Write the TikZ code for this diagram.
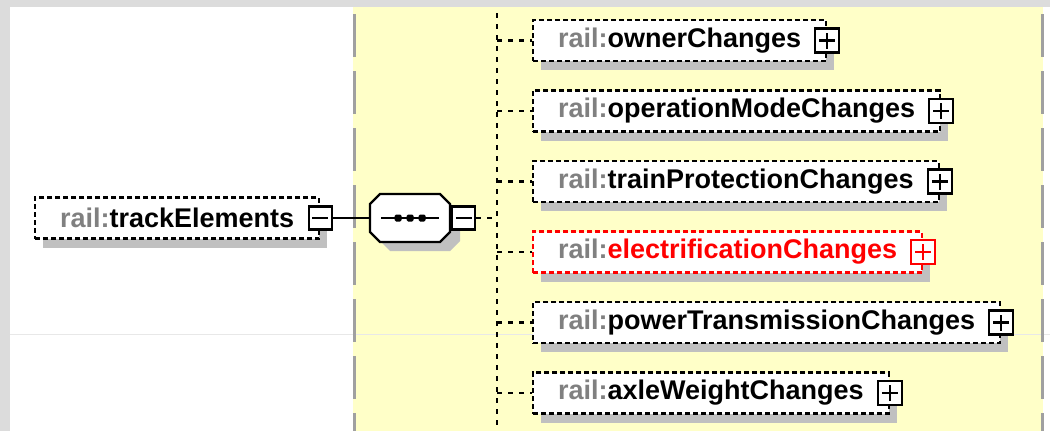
\documentclass[tikz,border=0pt]{standalone}
\usepackage{fontspec}
\setmainfont{Liberation Sans}
\usepackage{tikz}
\usetikzlibrary{positioning, shadows}
\definecolor{railgray}{RGB}{128,128,128}
\definecolor{panelyellow}{RGB}{255,255,200}
\definecolor{framegray}{RGB}{220,220,220}
\definecolor{shadegray}{RGB}{192,192,192}
\definecolor{sepgray}{RGB}{160,160,160}
\definecolor{rulegray}{RGB}{232,232,232}
\newcommand{\railpfx}{\textcolor{railgray}{rail:}}
\tikzset{x=1pt, y=1pt,
elem/.style={draw, dash pattern=on 5pt off 3pt, line width=2.2pt, fill=white, % dashed element box
  minimum height=41pt, inner xsep=25pt, inner ysep=0pt,
  font=\fontsize{27}{32}\selectfont\bfseries,
  drop shadow={shadow xshift=8pt, shadow yshift=-9pt, opacity=1, fill=shadegray}},
plusbox/.style={draw, solid, line width=2.2pt, fill=white, minimum size=24pt, inner sep=0pt, % expand button
  path picture={\draw[line width=2.2pt]
    ([xshift=-8pt]path picture bounding box.center) -- ([xshift=8pt]path picture bounding box.center)
    ([yshift=-8pt]path picture bounding box.center) -- ([yshift=8pt]path picture bounding box.center);}},
minusbox/.style={draw, solid, line width=2.2pt, fill=white, minimum size=23pt, inner sep=0pt, % collapse button
  path picture={\draw[line width=2.2pt]
    ([xshift=-8pt]path picture bounding box.center) -- ([xshift=8pt]path picture bounding box.center);}},
seqnode/.style={minimum width=80pt, minimum height=48pt, inner sep=0pt}, % sequence compositor
octagon/.style={insert path={(-40,14) -- (-30,24) -- (30,24) -- (40,14) -- (40,-14) -- (30,-24) -- (-30,-24) -- (-40,-14) -- cycle}},
childline/.style={line width=2.2pt, dash pattern=on 5pt off 6pt},
sepline/.style={draw=sepgray, line width=3pt, dash pattern=on 43pt off 14pt},
}

\begin{document}
\begin{tikzpicture}
\useasboundingbox (0,0) rectangle (1050,-431);
% background panels
\fill[framegray] (0,0) rectangle (1050,-431);
\fill[white] (10,-7) rectangle (1050,-431);
\fill[panelyellow] (353,-7) rectangle (1043,-431);
\draw[rulegray, line width=1pt] (10,-334) -- (1050,-334);
\draw[sepline] (354,-14) -- (354,-431);
\draw[sepline] (1042,-14) -- (1042,-431);

% parent element and sequence
\node[elem, anchor=west] (track) at (34,-218) {\railpfx trackElements};
\node[minusbox] (trackmin) at (track.east) {};
\node[seqnode] (seq) at (410,-218) {};
\fill[shadegray, shift={(seq.center)}, xshift=10pt, yshift=-9pt] [octagon];
\draw[line width=2.2pt, fill=white, shift={(seq.center)}] [octagon];
\node[minusbox, right=1pt of seq] (seqmin) {};
\draw[line width=2.2pt] (trackmin) -- (seq);
\draw[line width=2.2pt] ([xshift=-29pt]seq.center) -- ([xshift=29pt]seq.center);
\foreach \dx in {-12,0,12}
  \fill[rounded corners=1.5pt] ([shift={(\dx-3.5,-3.5)}]seq.center) rectangle ++(7,7);

\coordinate (bus top) at (497,-13);
\coordinate (bus bot) at (497,-431);
\draw[childline] (bus top) -- (bus bot);
\draw[childline] (seqmin.east) -- (seqmin.east -| bus top);

% children
\node[elem, anchor=west] (owner) at (532,-40.5) {\railpfx ownerChanges};
\node[elem, below=70.5pt of owner.west, anchor=west] (opmode) {\railpfx operationModeChanges};
\node[elem, below=70.5pt of opmode.west, anchor=west] (protect) {\railpfx trainProtectionChanges};
\node[elem, below=70.5pt of protect.west, anchor=west, draw=red, text=red] (elec) {\railpfx electrificationChanges};
\node[elem, below=70.5pt of elec.west, anchor=west] (power) {\railpfx powerTransmissionChanges};
\node[elem, below=70.5pt of power.west, anchor=west] (axle) {\railpfx axleWeightChanges};

\node[plusbox] (ownerplus) at (owner.east) {};
\node[plusbox] (opmodeplus) at (opmode.east) {};
\node[plusbox] (protectplus) at (protect.east) {};
\node[plusbox, draw=red, path picture={\draw[red, line width=2.2pt]
  ([xshift=-8pt]path picture bounding box.center) -- ([xshift=8pt]path picture bounding box.center)
  ([yshift=-8pt]path picture bounding box.center) -- ([yshift=8pt]path picture bounding box.center);}] (elecplus) at (elec.east) {};
\node[plusbox] (powerplus) at (power.east) {};
\node[plusbox] (axleplus) at (axle.east) {};

\draw[childline] (owner.west -| bus top) -- (owner.west);
\draw[childline] (opmode.west -| bus top) -- (opmode.west);
\draw[childline] (protect.west -| bus top) -- (protect.west);
\draw[childline] (elec.west -| bus top) -- (elec.west);
\draw[childline] (power.west -| bus top) -- (power.west);
\draw[childline] (axle.west -| bus top) -- (axle.west);
\end{tikzpicture}
\end{document}
